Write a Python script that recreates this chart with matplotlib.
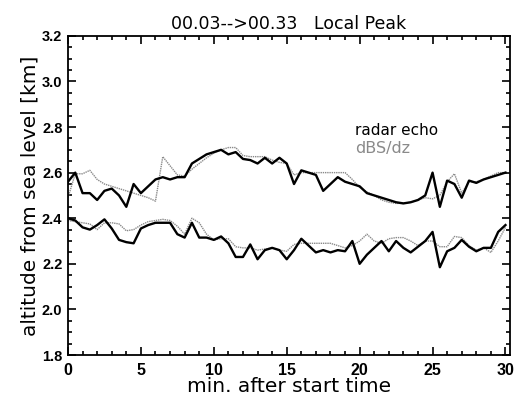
import numpy as np
import matplotlib
matplotlib.use("Agg")
import matplotlib.pyplot as plt
from matplotlib.ticker import MultipleLocator, FormatStrFormatter

# time axis, one sample every half minute
minutes = np.arange(0, 30.01, 0.5)

# upper layer
upper_echo = [2.56, 2.60, 2.51, 2.51, 2.48, 2.52, 2.53, 2.50, 2.45, 2.55,
              2.51, 2.54, 2.57, 2.58, 2.57, 2.58, 2.58, 2.64, 2.66, 2.68,
              2.69, 2.70, 2.68, 2.69, 2.66, 2.655, 2.64, 2.665, 2.64, 2.665,
              2.64, 2.55, 2.61, 2.60, 2.59, 2.52, 2.55, 2.58, 2.56, 2.55,
              2.54, 2.51, 2.50, 2.49, 2.48, 2.47, 2.465, 2.47, 2.48, 2.50,
              2.60, 2.45, 2.565, 2.55, 2.49, 2.565, 2.555, 2.57, 2.58, 2.59,
              2.60]
upper_dbs = [2.49, 2.595, 2.595, 2.61, 2.57, 2.55, 2.54, 2.53, 2.52, 2.51,
             2.50, 2.49, 2.475, 2.67, 2.63, 2.59, 2.585, 2.615, 2.64, 2.665,
             2.685, 2.70, 2.71, 2.71, 2.675, 2.67, 2.67, 2.67, 2.655, 2.645,
             2.64, 2.59, 2.60, 2.60, 2.60, 2.60, 2.60, 2.60, 2.60, 2.57,
             2.535, 2.515, 2.50, 2.48, 2.47, 2.465, 2.465, 2.47, 2.48, 2.49,
             2.485, 2.50, 2.56, 2.595, 2.51, 2.56, 2.56, 2.57, 2.585, 2.60,
             2.60]

# lower layer
lower_echo = [2.40, 2.39, 2.36, 2.35, 2.37, 2.395, 2.355, 2.305, 2.295, 2.29,
              2.355, 2.37, 2.38, 2.38, 2.38, 2.33, 2.315, 2.38, 2.315, 2.315,
              2.305, 2.32, 2.29, 2.23, 2.23, 2.285, 2.22, 2.26, 2.27, 2.26,
              2.22, 2.26, 2.31, 2.28, 2.25, 2.26, 2.25, 2.26, 2.255, 2.30,
              2.20, 2.24, 2.27, 2.30, 2.255, 2.30, 2.27, 2.25, 2.275, 2.30,
              2.34, 2.185, 2.255, 2.27, 2.305, 2.275, 2.255, 2.27, 2.27, 2.34,
              2.37]
lower_dbs = [2.39, 2.385, 2.38, 2.375, 2.35, 2.38, 2.38, 2.375, 2.345, 2.35,
             2.37, 2.385, 2.39, 2.395, 2.39, 2.365, 2.33, 2.40, 2.38, 2.33,
             2.305, 2.31, 2.31, 2.275, 2.27, 2.27, 2.26, 2.265, 2.27, 2.26,
             2.255, 2.285, 2.29, 2.29, 2.29, 2.29, 2.29, 2.28, 2.27, 2.28,
             2.30, 2.33, 2.30, 2.29, 2.31, 2.315, 2.315, 2.30, 2.28, 2.30,
             2.30, 2.275, 2.275, 2.32, 2.315, 2.28, 2.26, 2.27, 2.25, 2.30,
             2.36]

fig = plt.figure(figsize=(5.15, 3.98), dpi=100)
ax = fig.add_axes([0.132, 0.108, 0.858, 0.802])

echo_kw = dict(color="black", lw=1.7)
dbs_kw = dict(color="#8a8a8a", lw=1.0, ls=(0, (1, 0.6)))
ax.plot(minutes, upper_dbs, **dbs_kw)
ax.plot(minutes, lower_dbs, **dbs_kw)
ax.plot(minutes, upper_echo, **echo_kw)
ax.plot(minutes, lower_echo, **echo_kw)

ax.set_xlim(0, 30.3)
ax.set_ylim(1.8, 3.2)
ax.xaxis.set_major_locator(MultipleLocator(5))
ax.xaxis.set_minor_locator(MultipleLocator(1))
ax.yaxis.set_major_locator(MultipleLocator(0.2))
ax.yaxis.set_minor_locator(MultipleLocator(0.05))
ax.xaxis.set_major_formatter(FormatStrFormatter("%d"))
ax.yaxis.set_major_formatter(FormatStrFormatter("%.1f"))
ax.tick_params(which="both", direction="in", top=True, right=True, width=1.2)
ax.tick_params(which="major", length=6)
ax.tick_params(which="minor", length=3)
ax.tick_params(axis="x", pad=6, labelsize=11.5)
ax.tick_params(axis="y", pad=4, labelsize=10.5)
for lab in ax.get_xticklabels() + ax.get_yticklabels():
    lab.set_family("Liberation Sans")
    lab.set_weight("bold")
for sp in ax.spines.values():
    sp.set_linewidth(1.3)

ax.set_title("00.03-->00.33   Local Peak", fontsize=12.5, pad=5)
ax.set_xlabel("min. after start time", fontsize=14.5, labelpad=-1)
ax.set_ylabel("altitude from sea level [km]", fontsize=14.5, labelpad=2)

ax.text(19.7, 2.785, "radar echo", fontsize=11, color="black", va="center")
ax.text(19.7, 2.705, "dBS/dz", fontsize=11.5, color="#8a8a8a", va="center")

fig.savefig("out.png", dpi=100)
